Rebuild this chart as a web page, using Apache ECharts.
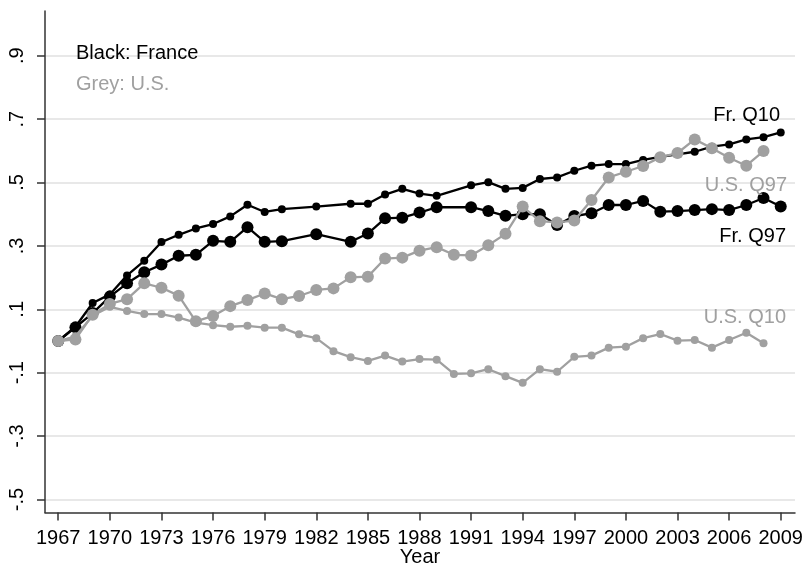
<!DOCTYPE html>
<html>
<head>
<meta charset="utf-8">
<script src="https://cdn.jsdelivr.net/npm/echarts@6.0.0/dist/echarts.min.js"></script>
<style>
  html, body { margin: 0; padding: 0; background: #fff; }
  #plot { width: 805px; height: 566px; }
</style>
</head>
<body>
<div id="plot"></div>
<script>
// France has no observation for 1981, 1983 and 1990
const frYears = [1967, 1968, 1969, 1970, 1971, 1972, 1973, 1974, 1975, 1976, 1977, 1978, 1979, 1980,
    1982, 1984, 1985, 1986, 1987, 1988, 1989, 1991, 1992, 1993, 1994, 1995, 1996, 1997, 1998, 1999,
    2000, 2001, 2002, 2003, 2004, 2005, 2006, 2007, 2008, 2009];
const frQ10 = [0.000, 0.045, 0.120, 0.147, 0.207, 0.253, 0.312, 0.335, 0.355, 0.369, 0.393, 0.430, 0.407, 0.416,
    0.424, 0.433, 0.433, 0.462, 0.480, 0.465, 0.458, 0.491, 0.501, 0.480, 0.483, 0.511, 0.516, 0.537, 0.553, 0.558,
    0.558, 0.571, 0.581, 0.589, 0.597, 0.613, 0.620, 0.636, 0.643, 0.658];
const frQ97 = [0.000, 0.043, 0.088, 0.140, 0.182, 0.217, 0.241, 0.269, 0.272, 0.316, 0.313, 0.359, 0.313, 0.315,
    0.337, 0.313, 0.339, 0.387, 0.389, 0.405, 0.422, 0.422, 0.410, 0.395, 0.400, 0.400, 0.366, 0.394, 0.403, 0.429,
    0.429, 0.442, 0.408, 0.410, 0.413, 0.416, 0.413, 0.429, 0.451, 0.424];

const usYears = [1967, 1968, 1969, 1970, 1971, 1972, 1973, 1974, 1975, 1976, 1977, 1978, 1979, 1980, 1981,
    1982, 1983, 1984, 1985, 1986, 1987, 1988, 1989, 1990, 1991, 1992, 1993, 1994, 1995, 1996, 1997, 1998,
    1999, 2000, 2001, 2002, 2003, 2004, 2005, 2006, 2007, 2008];
const usQ10 = [0.000, 0.015, 0.080, 0.108, 0.095, 0.085, 0.085, 0.074, 0.058, 0.050, 0.045, 0.048, 0.042, 0.042, 0.021,
    0.009, -0.032, -0.051, -0.063, -0.046, -0.065, -0.057, -0.059, -0.104, -0.102, -0.089, -0.111, -0.132, -0.089, -0.097, -0.050, -0.046,
    -0.021, -0.018, 0.009, 0.022, 0.001, 0.003, -0.021, 0.003, 0.026, -0.007];
const usQ97 = [0.000, 0.005, 0.083, 0.117, 0.132, 0.182, 0.168, 0.143, 0.062, 0.079, 0.110, 0.129, 0.150, 0.132, 0.142,
    0.161, 0.166, 0.201, 0.203, 0.260, 0.263, 0.285, 0.296, 0.272, 0.270, 0.302, 0.338, 0.424, 0.378, 0.374, 0.380, 0.445,
    0.516, 0.534, 0.552, 0.580, 0.593, 0.636, 0.608, 0.578, 0.553, 0.599];

const xTicks = [1967, 1970, 1973, 1976, 1979, 1982, 1985, 1988, 1991, 1994, 1997, 2000, 2003, 2006, 2009];
const yTicks = [-0.5, -0.3, -0.1, 0.1, 0.3, 0.5, 0.7, 0.9];
const yTickLabels = ['-.5', '-.3', '-.1', '.1', '.3', '.5', '.7', '.9'];

const BLACK = '#000000';
const GREY = '#a0a0a0';
const FONT = '"Liberation Sans", Arial, sans-serif';

const pairs = (xs, ys) => xs.map((x, i) => [x, ys[i]]);

function lineSeries(name, xs, ys, color, size, z) {
    return {
        name: name,
        type: 'line',
        data: pairs(xs, ys),
        symbol: 'circle',
        symbolSize: size,
        z: z,
        lineStyle: { color: color, width: 2.3 },
        itemStyle: { color: color },
        emphasis: { disabled: true }
    };
}

function note(text, color, pos) {
    return Object.assign({
        type: 'text', z: 100,
        style: { text: text, fill: color, font: '20px ' + FONT }
    }, pos);
}

const chart = echarts.init(document.getElementById('plot'));

chart.setOption({
    animation: false,
    grid: { left: 45, right: 10, top: 11, bottom: 53.5, outerBoundsMode: 'none' },
    xAxis: {
        type: 'value',
        min: 1966.23,
        max: 2009.83,
        name: 'Year',
        nameLocation: 'middle',
        nameMoveOverlap: false,
        nameGap: 35,
        nameTextStyle: { fontFamily: FONT, fontSize: 20, color: '#000' },
        axisLine: { show: true, onZero: false, lineStyle: { color: '#333', width: 1.5 } },
        axisTick: { show: true, length: 8, customValues: xTicks, lineStyle: { color: '#333', width: 1.5 } },
        axisLabel: {
            customValues: xTicks,
            margin: 16,
            fontFamily: FONT, fontSize: 20, color: '#000',
            formatter: v => String(v)
        },
        splitLine: { show: false }
    },
    yAxis: {
        type: 'value',
        min: -0.541,
        max: 1.041,
        axisLine: { show: true, onZero: false, lineStyle: { color: '#333', width: 1.5 } },
        axisTick: { show: true, length: 8, customValues: yTicks, lineStyle: { color: '#333', width: 1.5 } },
        axisLabel: {
            customValues: yTicks,
            rotate: 90,
            margin: 18,
            fontFamily: FONT, fontSize: 20, color: '#000',
            formatter: v => {
                const i = yTicks.findIndex(t => Math.abs(t - v) < 1e-6);
                return i >= 0 ? yTickLabels[i] : '';
            }
        },
        splitLine: { show: true, lineStyle: { color: '#e8e8e8', width: 2 } }
    },
    graphic: [
        note('Black: France', BLACK, { left: 76, top: 43 }),
        note('Grey: U.S.', GREY, { left: 76, top: 74 }),
        note('Fr. Q10', BLACK, { right: 25, top: 105 }),
        note('U.S. Q97', GREY, { right: 18, top: 175 }),
        note('Fr. Q97', BLACK, { right: 19, top: 226 }),
        note('U.S. Q10', GREY, { right: 19, top: 307 })
    ],
    series: [
        lineSeries('Fr. Q10', frYears, frQ10, BLACK, 8, 2),
        lineSeries('Fr. Q97', frYears, frQ97, BLACK, 12, 3),
        lineSeries('U.S. Q10', usYears, usQ10, GREY, 8, 4),
        lineSeries('U.S. Q97', usYears, usQ97, GREY, 12, 5)
    ]
});
</script>
</body>
</html>
